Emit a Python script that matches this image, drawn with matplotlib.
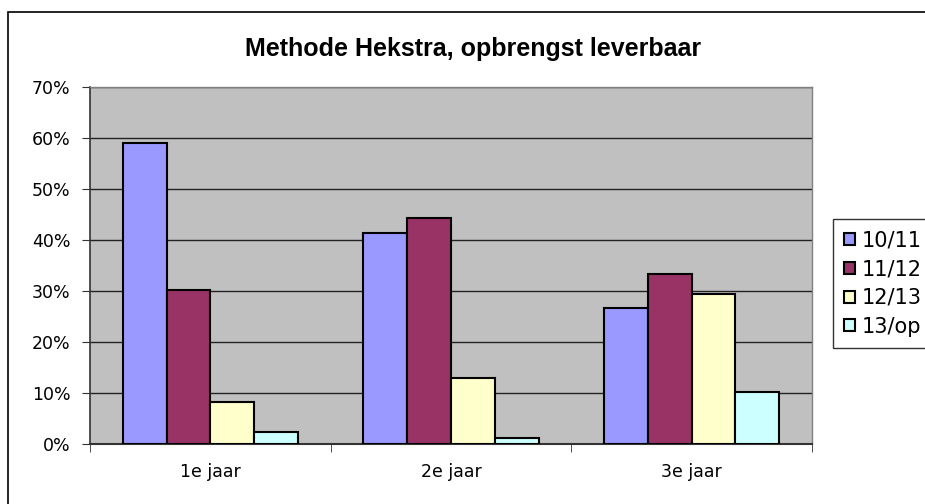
import matplotlib
matplotlib.use("Agg")
import matplotlib.pyplot as plt
from matplotlib.patches import Rectangle
import numpy as np

categories = ["1e jaar", "2e jaar", "3e jaar"]
series = ["10/11", "11/12", "12/13", "13/op"]
values = {
    "10/11": [59.0, 41.3, 26.7],
    "11/12": [30.2, 44.4, 33.4],
    "12/13": [8.3, 13.0, 29.5],
    "13/op": [2.4, 1.2, 10.2],
}
colors = ["#9999FF", "#993366", "#FFFFCC", "#CCFFFF"]
yticks = [0, 10, 20, 30, 40, 50, 60, 70]

W, H = 925, 504
fig = plt.figure(figsize=(W / 100, H / 100), dpi=100)
fig.patch.set_facecolor("white")

# outer chart frame
fig.patches.append(Rectangle((8 / W, -0.1), (W + 20) / W, (H - 12) / H + 0.1,
                             transform=fig.transFigure, fill=False,
                             edgecolor="black", linewidth=1.2))

L, R, T, B = 90, 812, 87, 444
ax = fig.add_axes([L / W, 1 - B / H, (R - L) / W, (B - T) / H])
ax.set_facecolor("#C0C0C0")

n = len(series)
bw = 1.0 / (n + 1.5)
x = np.arange(len(categories))
for i, (s, c) in enumerate(zip(series, colors)):
    offs = (i - (n - 1) / 2) * bw
    ax.bar(x + offs, values[s], width=bw, color=c, edgecolor="black",
           linewidth=1.5, label=s, zorder=3)

ax.set_xlim(-0.5, len(categories) - 0.5)
ax.set_ylim(0, 70)
ax.set_yticks(yticks)
ax.set_yticklabels([f"{v}%" for v in yticks], fontsize=12.5, family="DejaVu Sans")
ax.yaxis.grid(True, color="#222222", linewidth=1.0, zorder=1)
ax.set_axisbelow(True)

ax.set_xticks(x)
ax.set_xticklabels(categories, fontsize=12.5, family="DejaVu Sans")
ax.tick_params(axis="x", length=0, pad=14)
ax.set_xticks([-0.5, 0.5, 1.5, 2.5], minor=True)
ax.tick_params(axis="x", which="minor", length=6, direction="out", color="#333333")
ax.tick_params(axis="y", length=6, direction="out", color="#333333", pad=8)

for sp in ["top", "right"]:
    ax.spines[sp].set_color("#808080")
    ax.spines[sp].set_linewidth(1.0)
ax.spines["left"].set_color("#333333")
ax.spines["bottom"].set_color("#333333")
ax.spines["left"].set_linewidth(1.2)
ax.spines["bottom"].set_linewidth(1.5)

fig.text(473 / W, 1 - 49 / H, "Methode Hekstra, opbrengst leverbaar",
         ha="center", va="center", fontsize=18, fontweight="bold",
         family="Liberation Sans")

leg = fig.legend(loc="upper left", bbox_to_anchor=(833 / W, 1 - 219 / H),
                 frameon=True, fancybox=False, edgecolor="black",
                 prop={"family": "DejaVu Sans", "size": 15},
                 handlelength=0.5, handleheight=0.5, handletextpad=0.35,
                 labelspacing=0.42, borderpad=0.55, borderaxespad=0)
leg.get_frame().set_linewidth(1.0)
for h in leg.legend_handles:
    h.set_linewidth(1.5)

fig.savefig("out.png", dpi=100, facecolor="white")
